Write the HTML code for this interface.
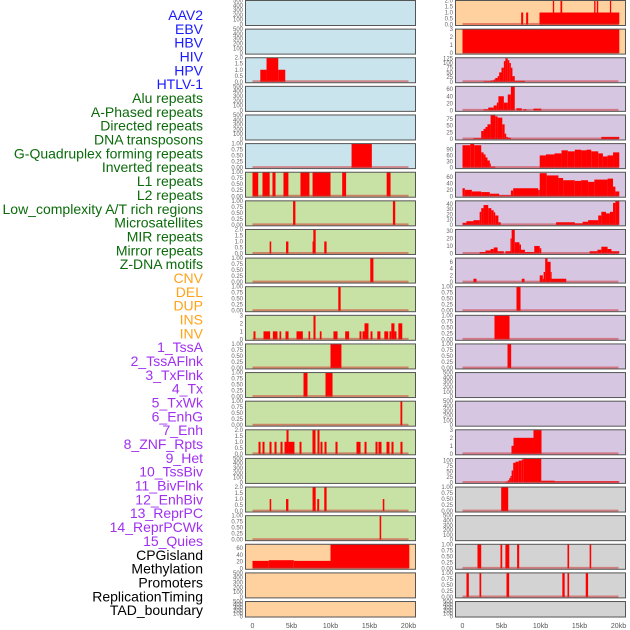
<!DOCTYPE html>
<html><head><meta charset="utf-8"><style>
html,body{margin:0;padding:0;background:#fff;width:630px;height:630px;overflow:hidden}
svg{display:block}
</style></head><body>
<svg id="chart" width="630" height="630" xmlns="http://www.w3.org/2000/svg" font-family="Liberation Sans, sans-serif"></svg>
<script>
const trackLabels = ["AAV2","EBV","HBV","HIV","HPV","HTLV-1","Alu repeats","A-Phased repeats","Directed repeats","DNA transposons","G-Quadruplex forming repeats","Inverted repeats","L1 repeats","L2 repeats","Low_complexity A/T rich regions","Microsatellites","MIR repeats","Mirror repeats","Z-DNA motifs","CNV","DEL","DUP","INS","INV","1_TssA","2_TssAFlnk","3_TxFlnk","4_Tx","5_TxWk","6_EnhG","7_Enh","8_ZNF_Rpts","9_Het","10_TssBiv","11_BivFlnk","12_EnhBiv","13_ReprPC","14_ReprPCWk","15_Quies","CPGisland","Methylation","Promoters","ReplicationTiming","TAD_boundary"];
const labelGroups = [6,13,5,15,5];
const groupColors = ["#1a1aff","#0b6b0b","#ffa31a","#a030f0","#000000"];

const xTickLabels = ["0","5kb","10kb","15kb","20kb"];
const xTickValues = [0,5,10,15,20];

// Left column panels: bars [startKb, endKb, value]
const leftMax = [500,500,2,500,500,1, 1,1,2,1,1,3,1,1,1,2,500,2,1,71,500,500];
const leftBg = ["b","b","b","b","b","b","g","g","g","g","g","g","g","g","g","g","g","g","g","o","o","o"];
const leftBars = [
 [],[],
 [[1.0,1.8,1],[1.8,3.3,2],[3.3,4.2,1]],
 [],[],
 [[12.7,15.3,1]],
 [[0,0.73,1],[1.28,2.2,1],[2.56,2.95,1],[3.97,4.6,1],[6.15,7.3,1],[7.7,10.0,1],[11.5,12.0,1],[17.2,17.7,1]],
 [[5.2,5.5,1],[18.0,18.3,1]],
 [[2.2,2.4,1],[4.3,4.6,1],[7.7,7.8,1],[7.8,8.1,2],[9.2,9.5,1]],
 [[15.1,15.5,1]],
 [[11.0,11.3,1]],
 [[0.13,0.38,1],[1.41,2.26,1],[2.61,3.2,1],[3.46,3.68,1],[4.23,4.62,1],[5.64,6.45,1],[7.18,7.39,1],[7.82,8.08,3],[8.63,8.85,1],[10.38,10.9,1],[11.88,12.39,1],[13.72,13.97,1],[14.1,14.36,1],[14.36,14.87,2],[15.13,15.38,1],[16.0,16.4,1],[16.9,17.4,1],[17.56,17.8,1],[17.8,18.2,2],[18.2,18.46,1],[18.7,19.2,2]],
 [[10.0,11.4,1]],
 [[6.54,7.05,1],[9.36,10.26,1]],
 [[18.97,19.2,1]],
 [[0.77,1.03,1],[1.28,1.54,1],[2.18,2.44,1],[2.82,3.08,1],[3.59,3.85,1],[4.1,4.36,1],[4.36,4.62,2],[4.62,5.38,1],[6.03,6.28,1],[7.69,8.08,2],[8.33,8.59,2],[8.72,8.97,1],[9.23,9.49,1],[10.64,10.9,1],[13.33,13.85,1],[14.36,14.62,1],[15.77,16.03,1],[16.15,16.54,1],[17.18,17.56,1],[17.82,18.08,1],[18.97,19.23,1]],
 [],
 [[2.2,2.4,1],[4.3,4.6,1],[7.7,8.1,2],[8.3,8.55,1],[9.2,9.5,2],[16.7,16.9,1]],
 [[16.3,16.5,1]],
 [[0,2.1,22],[2.1,5.3,24],[5.3,10.0,22],[10.0,20.1,75]],
 [],[]
];

// Right column panels
const rightMax = [2,3,128,68,90,118,75,46,32,7.1,1,1,1,500,500,3,110,1,500,1,1,500];
const rightBg = ["o","o","p","p","p","p","p","p","p","p","p","p","p","p","p","p","p","gr","gr","gr","gr","gr"];
const rightBars = [
 [[7.52,7.78,1],[8.16,8.42,1],[9.87,20.1,1],[11.58,11.75,2],[12.56,12.78,2],[16.88,17.05,2],[17.22,17.4,2],[18.9,19.06,2]],
 [[0,20.1,3]],
 [[2.7,3.6,3],[3.6,4.0,7],[4.0,4.2,12],[4.2,4.5,20],[4.5,4.7,30],[4.7,5.0,50],[5.0,5.3,75],[5.3,5.5,110],[5.5,5.8,125],[5.8,6.0,115],[6.0,6.2,100],[6.2,6.4,75],[6.4,6.7,30],[6.7,8.0,5]],
 [[2.7,3.3,3],[3.3,4.0,8],[4.0,4.4,14],[4.4,4.6,22],[4.6,5.3,40],[5.3,5.8,22],[5.8,6.2,45],[6.2,6.7,68],[6.9,7.6,6],[7.8,8.2,3],[9.1,10.1,5]],
 [[1.4,2.4,3],[2.4,2.7,30],[2.7,2.95,38],[2.95,3.2,45],[3.2,3.6,55],[3.6,4.2,90],[4.2,4.5,85],[4.5,5.1,80],[5.1,5.4,55],[5.4,5.6,20],[5.6,5.8,8],[5.8,6.2,5],[17.8,20.1,8]],
 [[0,1.0,110],[1.0,1.5,120],[1.5,2.4,110],[2.4,2.7,75],[2.7,2.95,65],[2.95,3.2,50],[3.2,3.5,35],[3.5,3.6,20],[3.6,4.2,5],[9.9,10.7,60],[10.7,11.8,65],[11.8,12.7,70],[12.7,13.5,85],[13.5,14.4,80],[14.4,15.2,88],[15.2,15.9,85],[15.9,16.5,88],[16.5,17.4,80],[17.4,18.0,70],[18.0,18.6,55],[18.6,19.3,60],[19.3,20.1,75]],
 [[0,0.3,25],[0.3,1.2,20],[1.2,2.4,15],[2.4,3.5,13],[3.5,4.7,8],[4.7,6.2,3],[6.2,6.5,18],[6.5,9.7,25],[9.7,9.9,20],[9.9,10.8,72],[10.8,12.3,65],[12.3,12.9,57],[12.9,14.4,50],[14.4,15.2,48],[15.2,16.1,50],[16.1,16.9,45],[16.9,18.6,52],[18.6,19.3,55],[19.3,19.6,30],[19.6,20.1,15]],
 [[0,0.5,4],[0.5,1.4,7],[1.4,2.2,9],[2.2,2.4,25],[2.4,2.7,32],[2.7,3.3,38],[3.3,3.7,32],[3.7,4.0,28],[4.0,4.2,24],[4.2,4.6,18],[4.6,4.9,5],[12.0,14.4,5],[14.4,15.4,3],[15.4,16.1,6],[16.1,17.4,9],[17.4,17.8,18],[17.8,18.4,25],[18.4,18.9,22],[18.9,19.3,25],[19.3,19.6,42],[19.6,20.1,46]],
 [[2.2,2.95,2],[2.95,3.6,4],[3.6,4.0,6],[4.0,4.5,8],[4.5,5.3,3],[5.5,6.15,3],[6.15,6.3,20],[6.3,6.7,32],[6.7,7.3,15],[7.3,7.5,12],[7.5,8.0,5],[8.0,9.2,2],[9.2,9.9,10],[9.9,10.1,7],[16.3,17.3,3],[17.3,17.8,5],[17.8,18.6,9],[18.6,19.1,6],[19.1,20.1,3]],
 [[1.4,1.8,1],[7.6,7.95,1],[9.9,10.3,2],[10.3,10.4,1],[10.4,10.6,3],[10.6,10.9,7],[10.9,11.3,6],[11.3,11.4,3],[11.4,13.3,1]],
 [[6.92,7.44,1]],
 [[4.1,6.03,1]],
 [[5.77,6.24,1]],
 [],[],
 [[6.28,6.54,1],[6.54,9.1,2],[9.1,10.13,3]],
 [[5.5,5.8,3],[5.8,6.0,10],[6.0,6.15,20],[6.15,6.3,30],[6.3,6.5,55],[6.5,6.8,90],[6.8,7.2,95],[7.2,7.6,100],[7.6,7.8,105],[7.8,10.1,110],[10.1,11.8,8],[11.8,20.1,5]],
 [[4.96,5.86,1]],
 [],
 [[1.92,2.4,1],[4.87,5.09,1],[5.5,6.0,1],[7.0,7.27,1],[13.46,13.67,1],[16.3,16.5,1]],
 [[0.51,0.81,1],[2.18,2.4,1],[5.64,5.98,1],[12.8,13.1,1],[13.46,13.67,1],[15.8,16.1,1]],
 []
];

// tick label sets by panel max
const ticks500 = ["0","100","200","300","400","500"];
const ticks1 = ["0.00","0.25","0.50","0.75","1.00"];
const ticks2 = ["0.0","0.5","1.0","1.5","2.0"];
const ticks3 = ["0","1","2","3"];
const ticksCustom = {128:["0","25","50","75","100","125"],68:["0","20","40","60"],90:["0","25","50","75"],118:["0","30","60","90"],75:["0","20","40","60"],46:["0","10","20","30","40"],32:["0","10","20","30"],7.1:["0","2","4","6"],110:["0","25","50","75","100"],71:["0","20","40","60"]};

const bgColors = {b:"#c9e4ec",g:"#c8e1a4",o:"#fed19f",p:"#d6c6e2",gr:"#d3d3d3"};
const NS = "http://www.w3.org/2000/svg";
const svg = document.getElementById("chart");
function el(tag, attrs, parent){const e=document.createElementNS(NS,tag);for(const k in attrs)e.setAttribute(k,attrs[k]);(parent||svg).appendChild(e);return e;}

// labels
let li=0;
labelGroups.forEach((n,g)=>{for(let j=0;j<n;j++){const t=el("text",{x:203,y:15+li*13.84+5,"text-anchor":"end","font-size":"14",fill:groupColors[g]});t.textContent=trackLabels[li];


li++;}});

function tickSet(m){if(m===500)return ticks500;if(m===1)return ticks1;if(m===2)return ticks2;if(m===3)return ticks3;return ticksCustom[m];}

function drawPanel(i, px, maxes, bgs, bars, side){
  const T = 0.5 + i*28.62, h = i===21?15.5:25, W=171;
  const ymax = maxes[i], ymin = -0.04*ymax;
  const yS = v => T + h - (Math.min(v,ymax) - ymin)/(ymax-ymin)*h;
  const xS = kb => px + 7.5 + kb*7.8;
  const g = el("g",{});
  
  
  el("rect",{x:px,y:T,width:W,height:h,fill:bgColors[bgs[i]]},g);
  bars[i].forEach(b=>{
    const r=el("rect",{x:xS(b[0]),y:yS(b[2]),width:Math.max(xS(b[1])-xS(b[0]),1),height:yS(0)-yS(b[2]),fill:"#ff0000"},g);
    
    
  });
  if(bars[i].length){el("line",{x1:xS(0),x2:xS(20),y1:yS(0)-0.5,y2:yS(0)-0.5,stroke:"rgba(210,40,40,0.5)","stroke-width":2},g);}
  el("rect",{x:px+0.5,y:T,width:W-1,height:h,fill:"none",stroke:"#555","stroke-width":1},g);
  const tl = tickSet(ymax);
  tl.forEach(s=>{const v=parseFloat(s);const t=el("text",{x:px-2,y:yS(v)+2,"text-anchor":"end","font-size":"6",fill:"#666"},g);t.textContent=s;
    
    });
}
for(let i=0;i<22;i++){drawPanel(i,245,leftMax,leftBg,leftBars,'left');drawPanel(i,455,rightMax,rightBg,rightBars,'right');}

[245,455].forEach(px=>{xTickValues.forEach((v,k)=>{const t=el("text",{x:px+7.5+v*7.8,y:628,"text-anchor":"middle","font-size":"7",fill:"#555"});t.textContent=xTickLabels[k];
 
 });});
</script>
</body></html>
